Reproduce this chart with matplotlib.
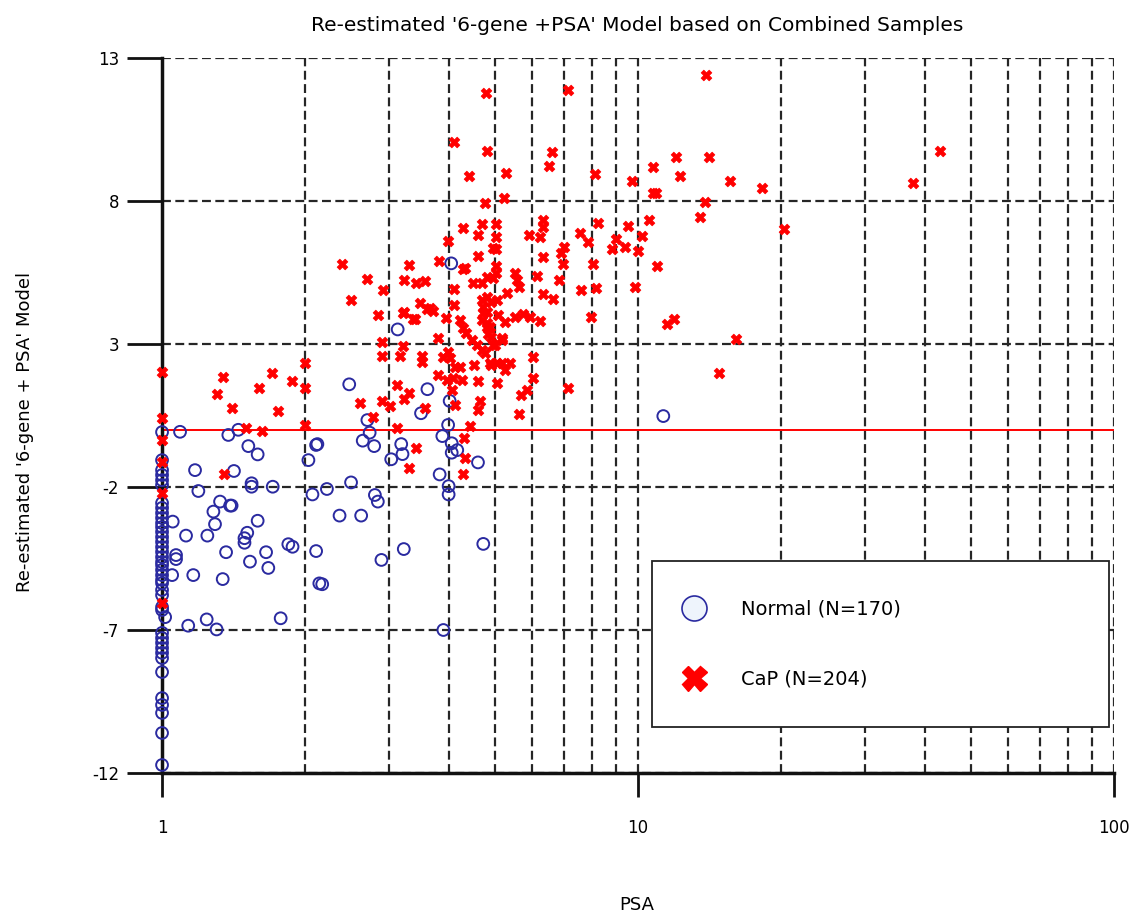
import matplotlib
matplotlib.use("Agg")
import matplotlib.pyplot as plt
from matplotlib.lines import Line2D
from matplotlib.ticker import LogLocator, NullFormatter

plt.rcParams['axes.unicode_minus'] = False

# Normal samples (PSA, model score)
normal_psa = [
    1.0, 1.0, 1.0, 1.0, 1.0, 1.0, 1.0, 1.0, 1.0, 1.0,
    1.0, 1.0, 1.0, 1.0, 1.0, 1.0, 1.0, 1.0, 1.0, 1.0,
    1.0, 1.0, 1.0, 1.0, 1.0, 1.0, 1.0, 1.0, 1.0, 1.0,
    1.0, 1.0, 1.0, 1.0, 1.0, 1.0, 1.0, 1.0, 1.0, 1.0,
    1.053, 1.07, 1.07, 1.05, 1.015, 1.091,
    1.378, 1.446, 1.518, 1.588, 1.173, 1.416, 1.192, 1.542, 1.542, 1.708,
    1.324, 1.39, 1.40, 1.282, 1.292, 1.588, 1.123, 1.245, 1.51, 1.49,
    1.49, 1.842, 1.88, 1.363, 1.530, 1.654, 1.672, 1.163, 1.341, 1.775,
    1.241, 1.135, 1.302, 2.107, 2.03, 2.07, 2.107, 2.14,
    3.126, 2.473, 3.61, 3.50, 2.70, 2.73, 2.64, 2.79, 2.12, 3.18,
    3.20, 3.03, 2.495, 2.22, 2.80, 2.84, 2.36, 2.62, 3.22, 2.89,
    2.17, 3.90, 4.05, 4.02, 3.99, 3.88, 4.06, 4.06, 4.17, 4.61,
    3.83, 4.0, 4.0, 4.73, 11.3,
]
normal_score = [
    -0.08, -1.06, -1.41, -1.58, -1.76, -1.93, -2.56, -2.73, -2.91, -3.08,
    -3.26, -3.40, -3.57, -3.75, -3.92, -4.10, -4.27, -4.45, -4.62, -4.73,
    -4.90, -5.08, -5.25, -5.36, -5.60, -5.78, -6.20, -6.30, -7.10, -7.28,
    -7.45, -7.63, -7.80, -7.98, -8.47, -9.38, -9.62, -9.90, -10.60, -11.72,
    -3.21, -4.38, -4.52, -5.08, -6.55, -0.07,
    -0.18, 0.0, -0.57, -0.86, -1.41, -1.44, -2.14, -1.87, -1.99, -1.99,
    -2.51, -2.65, -2.65, -2.86, -3.30, -3.18, -3.70, -3.70, -3.60, -3.79,
    -3.95, -4.0, -4.09, -4.28, -4.61, -4.28, -4.83, -5.08, -5.22, -6.59,
    -6.63, -6.85, -6.98, -0.53, -1.06, -2.26, -4.24, -5.37,
    3.51, 1.59, 1.42, 0.58, 0.34, -0.10, -0.38, -0.57, -0.50, -0.50,
    -0.85, -1.03, -1.84, -2.07, -2.28, -2.51, -3.0, -3.0, -4.17, -4.55,
    -5.40, -7.0, 5.82, 1.01, 0.17, -0.22, -0.47, -0.80, -0.71, -1.14,
    -1.56, -1.97, -2.26, -3.99, 0.48,
]

# CaP samples (PSA, model score)
cap_psa = [
    1.0, 1.0, 1.0, 1.0, 1.0, 1.0,
    1.345, 1.307, 1.40, 1.705, 1.598, 1.877, 1.756, 1.50, 1.62, 1.351,
    2.0, 2.0, 2.0,
    2.383, 3.31, 2.70, 3.22, 3.41, 3.57, 2.91, 2.50, 3.48, 3.60,
    3.22, 2.84, 3.40, 2.90, 2.90, 3.21, 3.16, 3.51, 3.51, 3.11,
    3.31, 3.22, 2.60, 2.90, 3.01, 2.78, 3.11, 3.41, 3.31,
    3.99, 4.62, 4.96, 4.29, 4.5, 4.7, 4.81, 4.96, 4.11, 4.70,
    4.81, 4.92, 4.73, 4.81, 5.05, 4.11, 3.94, 4.23, 4.29, 4.36,
    4.47, 4.58, 4.70, 4.76, 4.70, 4.81, 4.92, 4.96, 5.05, 4.92,
    3.80, 3.99, 3.90, 4.03, 3.80, 3.96, 4.13, 4.23, 4.27, 4.62,
    4.53, 5.05, 4.06, 4.13, 4.65, 4.62, 4.43, 4.31, 4.33, 4.29,
    4.88, 5.17, 5.38, 5.25, 5.0, 5.17, 4.09, 3.57, 5.61, 5.69,
    5.83, 6.02, 6.02,
    4.79, 7.13, 4.10, 4.82, 6.58, 6.51, 4.41, 5.29, 8.11, 4.76,
    5.22, 4.29, 4.71, 4.62, 5.02, 5.02, 5.02, 3.82, 4.33, 5.02,
    5.02, 5.89, 6.22, 6.31, 6.31, 7.00, 6.90, 6.96, 6.31, 7.55,
    7.86, 8.24, 8.06, 6.13, 5.52, 5.56, 5.61, 6.82, 7.60, 8.17,
    6.31, 6.62, 5.31, 4.73, 5.09, 5.25, 4.81, 4.88, 3.65, 3.71,
    3.37, 3.21, 5.52, 5.74, 5.93, 6.22, 7.95, 4.84, 5.17, 7.13,
    13.9, 12.0, 14.1, 10.77, 12.25, 9.73, 10.77, 10.91, 15.6, 18.2,
    13.8, 13.5, 20.3, 10.55, 9.52, 10.17, 10.0, 9.0, 8.82, 9.38,
    10.94, 9.85, 11.5, 11.9, 16.1, 14.8, 37.9, 43.1,
]
cap_score = [
    2.01, 0.40, -0.36, -1.12, -2.22, -6.07,
    1.86, 1.25, 0.77, 2.0, 1.47, 1.72, 0.64, 0.07, -0.04, -1.56,
    2.35, 1.45, 0.17,
    5.80, 5.76, 5.26, 5.24, 5.12, 5.21, 4.89, 4.54, 4.42, 4.21,
    4.11, 4.01, 3.86, 3.08, 2.58, 2.93, 2.58, 2.58, 2.38, 1.57,
    1.30, 1.07, 0.93, 1.02, 0.83, 0.46, 0.07, -0.65, -1.35,
    6.61, 6.08, 6.35, 5.61, 5.14, 5.14, 5.35, 5.30, 4.91, 4.54,
    4.65, 4.48, 4.30, 4.13, 4.54, 4.36, 3.90, 3.84, 3.55, 3.37,
    3.14, 2.97, 2.79, 2.67, 3.84, 3.60, 3.26, 2.97, 2.33, 2.27,
    3.20, 2.73, 2.56, 2.50, 1.92, 1.74, 2.21, 2.21, 1.74, 1.72,
    2.27, 1.63, 1.39, 0.87, 0.99, 0.69, 0.13, -0.28, -1.0, -1.56,
    2.33, 2.33, 2.33, 2.09, 2.97, 3.14, 1.80, 0.75, 0.55, 1.22,
    1.39, 1.80, 2.56,
    11.77, 11.88, 10.07, 9.76, 9.72, 9.22, 8.87, 8.97, 8.94, 7.94,
    8.09, 7.05, 7.19, 6.81, 7.19, 6.75, 6.31, 5.90, 5.65, 5.71,
    5.47, 6.81, 6.75, 7.34, 7.10, 6.40, 6.17, 5.80, 6.03, 6.89,
    6.58, 7.22, 5.80, 5.38, 5.47, 5.24, 5.01, 5.24, 4.89, 4.95,
    4.75, 4.56, 4.77, 4.07, 4.01, 3.78, 3.72, 3.61, 4.25, 4.17,
    3.86, 4.07, 3.95, 4.05, 3.95, 3.80, 3.95, 3.35, 3.20, 1.45,
    12.41, 9.55, 9.55, 9.18, 8.87, 8.71, 8.29, 8.29, 8.71, 8.47,
    7.98, 7.43, 7.01, 7.34, 7.14, 6.78, 6.26, 6.67, 6.31, 6.40,
    5.73, 5.01, 3.69, 3.86, 3.16, 2.0, 8.63, 9.75,
]

cutoff = 0.0
y_ticks = [-12, -7, -2, 3, 8, 13]

fig = plt.figure(figsize=(11.34, 9.15), dpi=100)
ax = fig.add_axes([0.1429, 0.1552, 0.8395, 0.7814])

ax.set_xscale('log')
ax.set_xlim(1, 100)
ax.set_ylim(-12, 13)
ax.set_yticks(y_ticks)
ax.set_xticks([1, 10, 100])
ax.set_xticklabels(['1', '10', '100'])
ax.xaxis.set_minor_locator(LogLocator(base=10, subs=range(2, 10)))
ax.xaxis.set_minor_formatter(NullFormatter())

dash = (0, (4, 2))
ax.grid(True, which='both', axis='x', color='#262626', linestyle=dash, linewidth=1.6, zorder=1)
ax.grid(True, which='major', axis='y', color='#262626', linestyle=dash, linewidth=1.6, zorder=1)
ax.set_axisbelow(True)

for side in ['top', 'right']:
    ax.spines[side].set_visible(False)
for side in ['left', 'bottom']:
    ax.spines[side].set_linewidth(2.5)
    ax.spines[side].set_color('#111111')

ax.tick_params(axis='y', which='major', length=25, width=2, pad=6, labelsize=12, color='#111111')
ax.tick_params(axis='x', which='major', length=17, width=2, pad=16, labelsize=12, color='#111111')
ax.tick_params(axis='x', which='minor', length=0)

ax.axhline(cutoff, color='red', linewidth=1.4, zorder=2)

ax.scatter(normal_psa, normal_score, s=72, facecolors='none', edgecolors='#2a2aa0',
           linewidths=1.4, zorder=3, clip_on=False)
ax.scatter(cap_psa, cap_score, s=60, marker='X', color='red', edgecolors='red',
           linewidths=0.5, zorder=4, clip_on=False)

handles = [
    Line2D([], [], marker='o', linestyle='', markersize=18, markerfacecolor='#eef4fc',
           markeredgecolor='#2a2aa0', markeredgewidth=1.2),
    Line2D([], [], marker='X', linestyle='', markersize=18, color='red'),
]
leg = ax.legend(handles, ['Normal (N=170)', 'CaP (N=204)'], loc='lower left',
                bbox_to_anchor=(0.515, 0.064, 0.48, 0.234), mode='expand',
                fontsize=14, labelspacing=2.6, borderpad=2.0, handlelength=0.25,
                handletextpad=2.3, borderaxespad=0, fancybox=False, framealpha=1)
leg.get_frame().set_edgecolor('#222222')
leg.get_frame().set_linewidth(1.3)
leg.set_zorder(5)

fig.text(0.5617, 0.972, "Re-estimated '6-gene +PSA' Model based on Combined Samples",
         ha='center', va='center', fontsize=14.5)
fig.text(0.022, 0.528, "Re-estimated '6-gene + PSA' Model", rotation=90,
         ha='center', va='center', fontsize=13)
fig.text(0.5617, 0.011, 'PSA', ha='center', va='center', fontsize=13)

plt.savefig('out.png', dpi=100)
